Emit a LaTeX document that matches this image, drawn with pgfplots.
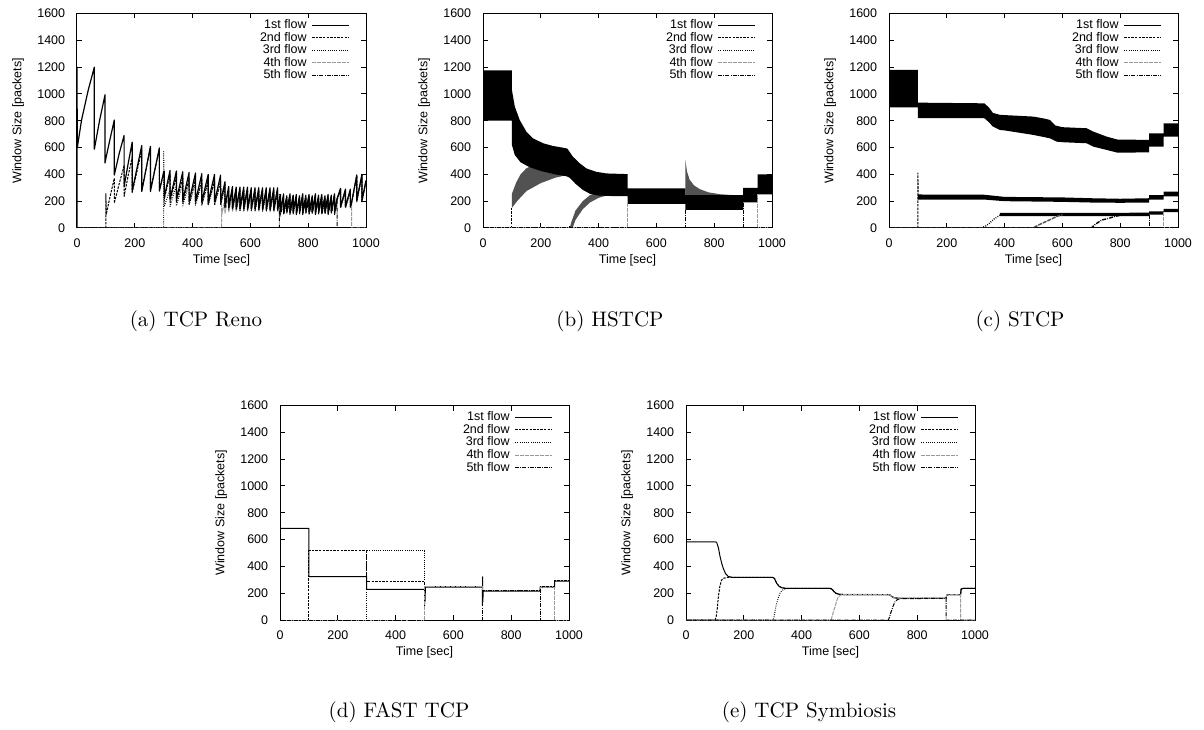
\documentclass[border=0pt]{standalone}
\usepackage{fontspec}
\usepackage{pgfplots}
\usepackage{pgfplotstable}
\pgfplotsset{compat=1.18}
\newfontfamily\gpfont{Liberation Sans}
\newcommand\gpsize{\gpfont\fontsize{6.25}{7}\selectfont}
\newcommand\capsize{\fontsize{10.5}{12}\selectfont}

\tikzset{
  f1/.style={black, line width=0.5pt, line join=round},
  f2/.style={black, line width=0.5pt, line join=round, dash pattern=on 1.2pt off 0.6pt},
  f3/.style={black, line width=0.5pt, line join=round, dash pattern=on 0.4pt off 0.7pt},
  f4/.style={black!40, line width=0.5pt, line join=round, dash pattern=on 2pt off 0.5pt},
  f5/.style={black, line width=0.5pt, line join=round, dash pattern=on 2pt off 0.6pt on 0.4pt off 0.6pt},
  band/.style={fill=black, draw=none},
  fan/.style={fill=black!68, draw=none},
}

\pgfplotsset{
  legend image code/.code={\draw[#1] (0pt,0pt) -- (18.5pt,0pt);},
  gp/.style={
    scale only axis, width=144.5pt, height=107.25pt,
    xmin=0, xmax=1000, ymin=0, ymax=1600,
    xtick={0,200,...,1000}, ytick={0,200,...,1600},
    tick align=inside, tick pos=both, major tick length=2.5pt,
    axis line style={line width=0.5pt},
    every tick/.append style={black, line width=0.5pt},
    tick label style={font=\gpsize},
    label style={font=\gpsize},
    xticklabel style={yshift=-1.7pt},
    yticklabel style={xshift=-2.4pt},
    xlabel={Time [sec]}, ylabel={Window Size [packets]},
    x label style={at={(axis description cs:0.5,-0.149)}, anchor=center},
    y label style={at={(axis description cs:-0.204,0.5)}, anchor=center},
    /pgf/number format/assume math mode=true,
    /pgf/number format/1000 sep={},
    scaled ticks=false,
    legend cell align=right, legend plot pos=right,
    legend style={draw=none, fill=none, inner sep=0pt, font=\gpsize,
      at={(1,1)}, anchor=north east, xshift=-8pt, yshift=-2.65pt,
      /tikz/column sep=2.5pt, /tikz/row sep=0.3pt,
      nodes={inner sep=0pt, text height=4.7pt, text depth=1.3pt}},
  },
}

\newcommand\gplegend{%
  \addlegendimage{f1}\addlegendentry{1st flow}
  \addlegendimage{f2}\addlegendentry{2nd flow}
  \addlegendimage{f3}\addlegendentry{3rd flow}
  \addlegendimage{f4}\addlegendentry{4th flow}
  \addlegendimage{f5}\addlegendentry{5th flow}}

% TCP Reno: window of each flow, sawtooth (peak row then low row at each loss)
\pgfplotstableread{
t f1 f2 f3 f4 f5
0 0 0 0 0 0
0 1200 0 0 0 0
1 600 0 0 0 0
16 808 0 0 0 0
39 1030 0 0 0 0
60 1200 0 0 0 0
60 588 0 0 0 0
78 800 0 0 0 0
97 994 0 0 0 0
97 485 0 0 0 0
100 520 0 0 0 0
100 520 260 0 0 0
101 530 100 0 0 0
114 660 230 0 0 0
129 805 370 0 0 0
129 395 185 0 0 0
146 555 330 0 0 0
163 690 465 0 0 0
163 310 235 0 0 0
177 480 390 0 0 0
191 640 530 0 0 0
191 275 265 0 0 0
224 615 580 0 0 0
224 272 280 0 0 0
254 608 600 0 0 0
254 272 285 0 0 0
285 597 590 0 0 0
285 275 280 0 0 0
300 418 412 0 0 0
300 418 412 570 0 0
301 422 416 200 0 0
302 425 420 205 0 0
302 230 215 160 0 0
322 430 400 290 0 0
322 215 195 160 0 0
344 425 385 320 0 0
344 210 190 165 0 0
366 420 375 330 0 0
366 205 185 165 0 0
388 415 370 335 0 0
388 200 180 170 0 0
410 410 365 340 0 0
410 200 180 170 0 0
432 405 360 340 0 0
432 195 175 170 0 0
454 400 355 345 0 0
454 195 175 170 0 0
476 400 355 345 0 0
476 195 175 170 0 0
497 395 350 340 0 0
497 195 175 170 0 0
500 225 205 200 0 0
500 225 205 200 300 0
501 235 215 210 100 0
512 345 325 320 210 0
512 160 150 145 110 0
525 310 295 285 245 0
525 155 145 140 120 0
538 310 290 280 255 0
538 150 140 135 125 0
551 305 290 280 260 0
551 150 140 135 125 0
564 305 290 275 260 0
564 150 140 130 125 0
577 305 285 275 260 0
577 145 140 130 125 0
590 305 285 275 260 0
590 145 135 130 125 0
603 300 285 270 260 0
603 145 135 130 125 0
616 300 285 270 260 0
616 145 135 130 125 0
629 300 285 270 260 0
629 145 135 130 125 0
642 300 285 270 260 0
642 140 135 125 125 0
655 300 285 270 260 0
655 140 135 125 125 0
668 300 285 270 255 0
668 140 135 125 120 0
681 300 285 270 255 0
681 140 135 125 120 0
694 300 285 270 255 0
694 140 135 125 120 0
700 209 201 191 186 0
700 209 201 191 186 250
701 220 212 202 197 80
704 250 245 235 230 110
704 125 120 115 110 100
715 255 245 235 230 185
715 120 115 110 105 100
726 240 230 220 215 200
726 130 125 120 115 110
737 255 245 235 230 220
737 120 115 110 105 100
748 245 235 225 220 215
748 125 120 115 110 105
759 250 240 230 225 220
759 115 110 105 100 100
770 240 230 220 215 210
770 125 120 115 110 105
781 255 245 235 230 225
781 120 115 110 105 100
792 245 235 225 220 215
792 130 125 120 115 110
803 250 240 230 225 220
803 120 115 110 105 100
814 240 230 220 215 210
814 125 120 115 110 105
825 255 245 235 230 225
825 115 110 105 100 100
836 245 235 225 220 215
836 125 120 115 110 105
847 250 240 230 225 220
847 120 115 110 105 100
858 240 230 220 215 210
858 125 120 115 110 105
869 250 240 230 225 220
869 120 115 110 105 100
880 245 235 225 220 215
880 125 120 115 110 105
891 255 245 235 230 225
891 120 115 110 105 100
900 220 215 210 205 200
900 220 215 210 205 0
912 295 290 285 280 0
912 160 155 150 150 0
929 290 285 280 275 0
929 160 155 150 150 0
946 290 285 280 275 0
946 160 155 150 150 0
950 190 185 180 180 0
950 190 185 180 0 0
968 395 390 385 0 0
968 205 200 195 0 0
986 400 395 390 0 0
986 205 200 195 0 0
1000 355 350 345 0 0
}\reno

\begin{document}
\begin{tikzpicture}
\useasboundingbox (0,0) rectangle (602pt,364.5pt);

% (a) TCP Reno
\begin{axis}[gp, at={(38.5pt,250.5pt)}, anchor=south west]
  \addplot[f4, forget plot] table[x=t, y=f4] {\reno};
  \addplot[f5, forget plot] table[x=t, y=f5] {\reno};
  \addplot[f3, forget plot] table[x=t, y=f3] {\reno};
  \addplot[f2, forget plot] table[x=t, y=f2] {\reno};
  \addplot[f1, forget plot, line width=0.6pt] table[x=t, y=f1] {\reno};
  \gplegend
\end{axis}

% (b) HSTCP: dense oscillation drawn as bands
\begin{axis}[gp, at={(241.5pt,250.5pt)}, anchor=south west]
  \addplot[fan, forget plot] coordinates {(100,150) (100,255) (115,340) (130,400) (150,445) (165,460) (200,450) (250,420) (290,395) (250,375) (200,335) (150,275) (120,205) (100,150)};
  \addplot[fan, forget plot] coordinates {(300,0) (305,40) (320,130) (345,200) (370,245) (400,270) (430,280) (470,270) (440,250) (400,225) (370,190) (345,140) (320,60) (310,0) (300,0)};
  \addplot[fan, forget plot] coordinates {(700,245) (700,512) (706,420) (715,360) (730,318) (750,290) (780,266) (820,252) (860,246) (700,245)};
  \addplot[band, forget plot] coordinates {(0,1175) (100,1175) (100,1030) (110,906) (127,806) (150,719) (173,669) (208,632) (242,612) (277,599) (292,592) (311,532) (335,482) (358,444) (392,419) (427,407) (500,402) (500,295) (700,295) (700,245) (900,245) (900,300) (950,300) (950,400) (1000,400)
    (1000,250) (950,250) (950,192) (900,192) (900,135) (700,135) (700,180) (500,180) (500,238) (450,238) (400,242) (370,255) (345,285) (320,330) (300,375) (290,385) (250,400) (200,425) (160,455) (130,490) (110,545) (100,620) (100,800) (0,800) (0,1175)};
  \addplot[f1, forget plot] coordinates {(0,0) (0,800)};
  \addplot[f2, forget plot] coordinates {(0,0) (100,0) (100,150)};
  \addplot[f3, forget plot] coordinates {(0,0) (300,0) (300,20)};
  \addplot[f4, forget plot] coordinates {(0,0) (500,0) (500,180)};
  \addplot[f4, forget plot] coordinates {(950,250) (950,0) (1000,0)};
  \addplot[f5, forget plot] coordinates {(0,0) (700,0) (700,135)};
  \addplot[f5, forget plot] coordinates {(900,190) (900,0) (1000,0)};
  \gplegend
\end{axis}

% (c) STCP
\begin{axis}[gp, at={(444.5pt,250.5pt)}, anchor=south west]
  \addplot[band, forget plot] coordinates {(0,1180) (100,1180) (100,935) (330,930) (345,900) (360,858) (384,844) (500,831) (540,815) (557,806) (575,765) (600,752) (684,744) (707,719) (754,681) (790,660) (900,657) (900,706) (950,706) (950,781) (1000,781)
    (1000,681) (950,681) (950,607) (900,607) (900,564) (790,562) (754,582) (707,607) (684,632) (600,640) (580,644) (557,669) (500,694) (400,728) (384,731) (360,756) (345,790) (330,819) (100,819) (100,900) (0,900) (0,1180)};
  \addplot[band, forget plot] coordinates {(100,250) (330,248) (400,232) (600,228) (700,222) (800,218) (900,222) (900,245) (950,245) (950,272) (1000,272)
    (1000,235) (950,235) (950,212) (900,212) (900,190) (800,188) (700,190) (600,195) (400,200) (330,212) (100,212) (100,250)};
  \addplot[band, forget plot] coordinates {(384,112) (900,114) (900,124) (950,124) (950,142) (1000,142)
    (1000,118) (950,118) (950,100) (900,100) (900,88) (384,88) (384,112)};
  \addplot[f1, forget plot] coordinates {(0,0) (0,900)};
  \addplot[f2, forget plot] coordinates {(0,0) (100,0) (100,410) (101,230)};
  \addplot[f3, forget plot, line width=0.7pt] coordinates {(0,0) (320,0) (335,15) (350,40) (365,70) (384,95) (400,100)};
  \addplot[f4, forget plot, line width=0.7pt, black!70] coordinates {(0,0) (498,0) (520,25) (550,55) (585,90) (600,98)};
  \addplot[f4, forget plot] coordinates {(950,120) (950,0) (1000,0)};
  \addplot[f5, forget plot, line width=0.7pt] coordinates {(0,0) (700,0) (715,30) (737,60) (760,72) (780,85) (800,95)};
  \addplot[f5, forget plot] coordinates {(900,100) (900,0) (1000,0)};
  \gplegend
\end{axis}

% (d) FAST TCP
\begin{axis}[gp, at={(140pt,54.5pt)}, anchor=south west]
  \addplot[f1, forget plot] coordinates {(0,0) (0,683) (100,683) (100,323) (300,323) (300,228) (500,228) (500,105) (501,248) (502,140) (503,245) (700,245) (700,112) (701,322) (702,135) (703,216) (900,216) (900,246) (950,246) (950,290) (1000,290)};
  \addplot[f2, forget plot] coordinates {(0,0) (100,0) (100,515) (300,515) (300,290) (500,290) (500,250) (700,250) (700,221) (900,221) (900,248) (950,248) (950,298) (1000,298)};
  \addplot[f3, forget plot] coordinates {(0,0) (300,0) (300,515) (500,515) (500,252) (700,252) (700,219) (900,219) (900,247) (950,247) (950,296) (1000,296)};
  \addplot[f4, forget plot] coordinates {(0,0) (500,0) (500,250) (700,250) (700,218) (900,218) (900,246) (950,246) (950,0) (1000,0)};
  \addplot[f5, forget plot] coordinates {(0,0) (700,0) (700,220) (900,220) (900,0) (1000,0)};
  \gplegend
\end{axis}

% (e) TCP Symbiosis
\begin{axis}[gp, at={(343pt,54.5pt)}, anchor=south west]
  \addplot[f1, forget plot] coordinates {(0,0) (0,583) (100,583) (106,580) (112,540) (118,471) (124,420) (129,385) (137,345) (146,325) (160,318) (300,318) (306,310) (314,273) (322,252) (331,241) (345,236) (500,235) (506,228) (513,210) (520,198) (530,192) (544,190) (700,190) (706,185) (712,175) (720,166) (735,162) (900,162) (902,185) (908,190) (950,190) (952,230) (958,235) (1000,235)};
  \addplot[f2, forget plot] coordinates {(0,0) (100,0) (104,20) (108,80) (112,174) (117,250) (123,298) (132,313) (145,318) (300,318) (306,310) (314,273) (322,252) (331,241) (345,236) (500,235) (506,228) (513,210) (520,198) (530,192) (544,190) (700,190) (706,185) (712,175) (720,166) (735,162) (900,162) (902,185) (908,190) (950,190) (952,230) (958,235) (1000,235)};
  \addplot[f3, forget plot] coordinates {(0,0) (302,0) (306,40) (310,90) (314,124) (320,170) (325,199) (333,222) (343,233) (360,236) (500,235) (506,228) (513,210) (520,198) (530,192) (544,190) (700,190) (706,185) (712,175) (720,166) (735,162) (900,162) (902,185) (908,190) (950,190) (952,230) (958,235) (1000,235)};
  \addplot[f4, forget plot] coordinates {(0,0) (502,0) (506,30) (511,70) (516,99) (521,140) (527,174) (535,186) (544,191) (700,190) (706,185) (712,175) (720,166) (735,162) (900,162) (902,185) (908,190) (950,190) (950,0) (1000,0)};
  \addplot[f5, forget plot] coordinates {(0,0) (700,0) (704,20) (708,50) (712,74) (717,105) (723,136) (730,150) (740,159) (900,162) (900,0) (1000,0)};
  \gplegend
\end{axis}

\node[font=\capsize] at (98pt,204pt) {(a) TCP Reno};
\node[font=\capsize] at (305pt,204pt) {(b) HSTCP};
\node[font=\capsize] at (510pt,204pt) {(c) STCP};
\node[font=\capsize] at (199.5pt,8.5pt) {(d) FAST TCP};
\node[font=\capsize] at (404.5pt,8.5pt) {(e) TCP Symbiosis};
\end{tikzpicture}
\end{document}
